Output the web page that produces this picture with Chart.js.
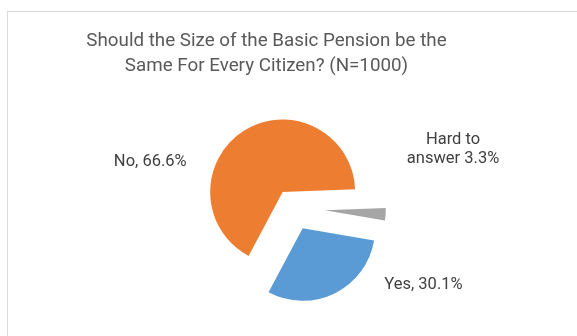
<!DOCTYPE html>
<html>
<head>
<meta charset="utf-8">
<title>Basic Pension Survey</title>
<script src="https://cdn.jsdelivr.net/npm/chart.js@4"></script>
<style>
  html, body { margin: 0; padding: 0; background: #fff; overflow: hidden; }
  #frame {
    position: absolute; left: 7px; top: 11px;
    width: 620px; height: 360px;
    border-left: 1px solid #d9d9d9; border-top: 1px solid #d9d9d9;
  }
  #chart { position: absolute; left: 0; top: 0; }
</style>
</head>
<body>
<div id="frame"></div>
<canvas id="chart" width="577" height="336"></canvas>
<script>
const titleLines = ['Should the Size of the Basic Pension be the', 'Same For Every Citizen? (N=1000)'];
const answers = ['Yes', 'No', 'Hard to answer'];
const shares = [30.1, 66.6, 3.3];
const labelTexts = [['Yes, 30.1%'], ['No, 66.6%'], ['Hard to', 'answer 3.3%']];

const sliceColors = ['#5B9BD5', '#ED7D31', '#A5A5A5'];
// how far each slice is pulled out of the pie, and its radius
const explode = [22.4, 19.1, 32];
const sliceRadius = [72.5, 72.5, 61];
// label anchor (baseline of last line) relative to the slice tip
const labelShift = [[120.8, 61], [-132.4, -26], [128.3, -47]];

const explodePlugin = {
    id: 'explode',
    afterDatasetsUpdate(chart) {
        chart.getDatasetMeta(0).data.forEach((arc, i) => {
            const mid = (arc.startAngle + arc.endAngle) / 2;
            arc.x += Math.cos(mid) * explode[i];
            arc.y += Math.sin(mid) * explode[i];
            arc.outerRadius = sliceRadius[i];
        });
    }
};

const textPlugin = {
    id: 'texts',
    afterDraw(chart) {
        const ctx = chart.ctx;
        ctx.save();
        ctx.textAlign = 'center';
        ctx.textBaseline = 'alphabetic';

        // title
        ctx.fillStyle = '#595959';
        ctx.font = '18.8px Roboto';
        ctx.fillText(titleLines[0], 266.5, 45.7);
        ctx.fillText(titleLines[1], 266.5, 70.7);

        // data labels
        ctx.fillStyle = '#404040';
        ctx.font = '16.5px Roboto';
        chart.getDatasetMeta(0).data.forEach((arc, i) => {
            const lines = labelTexts[i];
            const x = arc.x + labelShift[i][0];
            const y = arc.y + labelShift[i][1];
            lines.forEach((line, j) => {
                ctx.fillText(line, x, y - (lines.length - 1 - j) * 19.5);
            });
        });
        ctx.restore();
    }
};

new Chart(document.getElementById('chart'), {
    type: 'pie',
    data: {
        labels: answers,
        datasets: [{
            data: shares,
            backgroundColor: sliceColors,
            borderWidth: 0
        }]
    },
    options: {
        responsive: false,
        animation: false,
        rotation: 99.7,
        radius: 72.5,
        layout: { padding: { left: 8.6, top: 80.4, right: 0, bottom: 0 } },
        plugins: {
            legend: { display: false },
            title: { display: false },
            tooltip: { enabled: false }
        }
    },
    plugins: [explodePlugin, textPlugin]
});
</script>
</body>
</html>
